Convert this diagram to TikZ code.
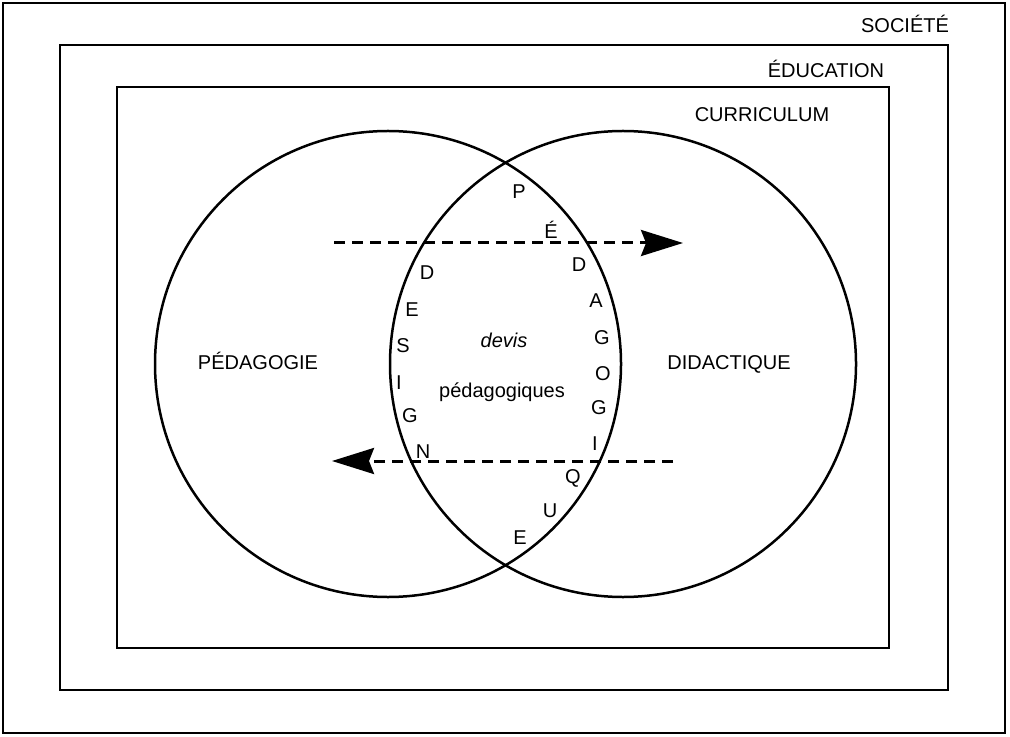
\documentclass[tikz,border=0pt]{standalone}
\usepackage{fontspec}
\setmainfont{Liberation Sans}
\usetikzlibrary{arrows.meta}

\tikzset{
  lbl/.style={inner sep=0pt, anchor=base, font=\fontsize{10pt}{12pt}\selectfont},
  flow/.style={line width=1.5pt, dash pattern=on 5.5pt off 3.5pt, ->}
}

\begin{document}
\begin{tikzpicture}[x=0.5pt, y=-0.5pt, line width=1.25pt,
    >={Stealth[length=21pt, width=13pt, inset=2.5pt]}]
   	 \useasboundingbox (0,0) rectangle (1010,737);
   	 % cadres
   	 \draw (3,3) rectangle (1005,733);
   	 \draw (60,45) rectangle (948,690);
   	 \draw (117,87) rectangle (889,648);
   	 \node[lbl] (soc) at (905,33) {SOCIÉTÉ};
   	 \node[lbl] (edu) at (826,78) {ÉDUCATION};
   	 \node[lbl] (cur) at (762,122) {CURRICULUM};
   	 % cercles
   	 \draw (388,364) circle (233);
   	 \draw (623,364) circle (233);
   	 \node[lbl] (ped) at (258,369) {PÉDAGOGIE};
   	 \node[lbl] (did) at (729,369) {DIDACTIQUE};
   	 \node[lbl] (devis) at (504,347) {\itshape devis};
   	 \node[lbl] (pedag) at (502,397) {pédagogiques};
   	 % pedagogique
   	 \node[lbl] (p1) at (519,199) {P};
   	 \node[lbl] (p2) at (551,239) {É};
   	 \node[lbl] (p3) at (579,272) {D};
   	 \node[lbl] (p4) at (596,307) {A};
   	 \node[lbl] (p5) at (602,344) {G};
   	 \node[lbl] (p6) at (603,380) {O};
   	 \node[lbl] (p7) at (599,414) {G};
   	 \node[lbl] (p8) at (595,450) {I};
   	 \node[lbl] (p9) at (573,483) {Q};
   	 \node[lbl] (p10) at (550,517) {U};
   	 \node[lbl] (p11) at (520,544) {E};
   	 % design
   	 \node[lbl] (d1) at (427,280) {D};
   	 \node[lbl] (d2) at (412,316) {E};
   	 \node[lbl] (d3) at (403,352) {S};
   	 \node[lbl] (d4) at (399,389) {I};
   	 \node[lbl] (d5) at (410,422) {G};
   	 \node[lbl] (d6) at (423,458) {N};
   	 % fleches
   	 \coordinate (a1) at (334,243);
   	 \coordinate (a2) at (683,243);
   	 \coordinate (b1) at (673,461);
   	 \coordinate (b2) at (332,461);
   	 \draw[flow] (a1) -- (a2);
   	 \draw[flow] (b1) -- (b2);
\end{tikzpicture}
\end{document}
